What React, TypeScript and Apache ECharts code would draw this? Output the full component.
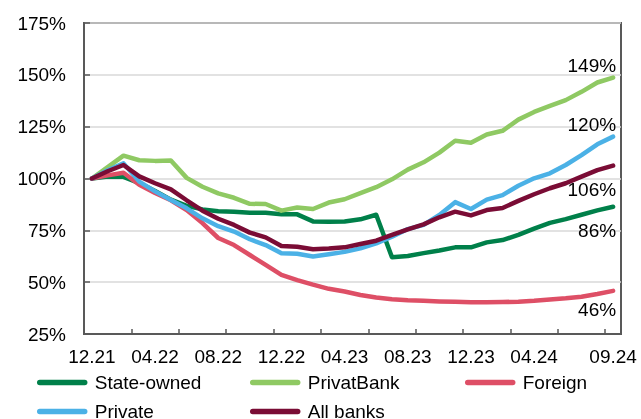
import React, { useEffect, useRef } from "react";
import * as echarts from "echarts";

const months = [
  "12.21", "01.22", "02.22", "03.22", "04.22", "05.22", "06.22", "07.22", "08.22", "09.22", "10.22", "11.22",
  "12.22", "01.23", "02.23", "03.23", "04.23", "05.23", "06.23", "07.23", "08.23", "09.23", "10.23", "11.23",
  "12.23", "01.24", "02.24", "03.24", "04.24", "05.24", "06.24", "07.24", "08.24", "09.24",
];

const stateOwned = [100, 101, 100.8, 97.8, 94, 89.8, 86.8, 85.1, 84.2, 84, 83.5, 83.5, 82.8, 82.7, 79.3, 79.2, 79.3, 80.3, 82.5, 62, 62.6, 64, 65.3, 66.8, 66.8, 69.2, 70.3, 72.8, 75.8, 78.6, 80.4, 82.5, 84.6, 86.4];
const privatBank = [100, 105.5, 111, 108.8, 108.5, 108.7, 100.3, 96, 92.8, 90.7, 87.8, 87.7, 84.5, 86, 85.3, 88.4, 90, 92.9, 95.8, 99.6, 104.3, 107.8, 112.5, 118.2, 117.2, 121.2, 123, 128.4, 132.1, 135, 137.8, 141.8, 146.3, 148.7];
const foreign = [100, 101.5, 102.8, 97, 93, 89.5, 84.8, 78.5, 71.3, 67.9, 63.1, 58.3, 53.5, 51, 48.8, 46.8, 45.5, 43.8, 42.6, 41.8, 41.3, 41, 40.7, 40.5, 40.3, 40.3, 40.4, 40.6, 41, 41.6, 42.2, 43, 44.3, 45.8];
const privateBanks = [100, 104, 107.3, 98.5, 93.8, 89.6, 85.6, 80.8, 77, 74.4, 70.7, 67.9, 63.9, 63.7, 62.4, 63.5, 64.6, 66.3, 68.7, 71.9, 75.6, 77.6, 82.4, 88.6, 85.3, 89.8, 92, 96.5, 100.1, 102.5, 106.5, 111.3, 116.5, 120.2];
const allBanks = [100, 103.5, 106.5, 101, 97.7, 94.8, 89.5, 84.5, 80.6, 77.6, 73.9, 71.6, 67.4, 67.1, 65.9, 66.2, 66.8, 68.4, 70, 72.8, 75.5, 77.9, 81.3, 84, 82.2, 84.8, 85.8, 89.2, 92.4, 95.3, 97.7, 100.9, 104, 106.2];

const seriesNames = ["State-owned", "PrivatBank", "Foreign", "Private", "All banks"];
const seriesColors = ["#00804a", "#8fc963", "#de4f66", "#4bb1e6", "#7a0c35"];

const FONT = "'Liberation Sans', Arial, Helvetica, sans-serif";
const AXIS = "#595959";

export default function App() {
  const ref = useRef<HTMLDivElement>(null);
  useEffect(() => {
    if (!ref.current) return;
    const chart = echarts.init(ref.current, null, { renderer: "svg" });
    const values = [stateOwned, privatBank, foreign, privateBanks, allBanks];
    const labelOffsets: number[][] = [[3, 24], [3, -12], [3, 19], [3, -12], [3, 24]];
    const legendLeft = [37, 250, 465, 37, 250];
    const legendTop = [373, 373, 373, 402, 402];
    const legendIcon = "path://M3,0 H52 A3,3 0 0 1 52,6 H3 A3,3 0 0 1 3,0 Z";
    chart.setOption({
      animation: false,
      grid: { left: 84, right: 20, top: 23, bottom: 85, show: true, borderColor: AXIS, borderWidth: 2 },
      legend: seriesNames.map((name, k) => ({
        orient: "horizontal",
        left: legendLeft[k],
        top: legendTop[k],
        padding: 0,
        itemWidth: 55,
        itemHeight: 5.5,
        icon: legendIcon,
        selectedMode: false,
        textStyle: { fontSize: 19, fontFamily: FONT, color: "#000" },
        data: [name],
      })),
      xAxis: {
        type: "category",
        data: months,
        boundaryGap: true,
        axisLine: { lineStyle: { color: AXIS, width: 2 } },
        axisTick: { show: true, inside: true, length: 5, interval: (i: number) => i % 3 === 0, lineStyle: { color: AXIS, width: 1.5 } },
        axisLabel: {
          interval: (i: number) => (i % 4 === 0 && i < 32) || i === 33,
          color: "#000",
          fontSize: 19,
          fontFamily: FONT,
          margin: 13,
        },
      },
      yAxis: {
        type: "value",
        min: 25,
        max: 175,
        interval: 25,
        axisLine: { show: true, lineStyle: { color: AXIS, width: 2 } },
        axisTick: { show: true, inside: true, length: 6, lineStyle: { color: AXIS, width: 1.5 } },
        axisLabel: { formatter: "{value}%", color: "#000", fontSize: 19, fontFamily: FONT, margin: 18 },
        splitLine: { show: true, lineStyle: { color: "#d9d9d9", width: 1.5 } },
      },
      series: seriesNames.map((name, k) => ({
        name,
        type: "line",
        data: values[k],
        showSymbol: false,
        symbol: "none",
        color: seriesColors[k],
        lineStyle: { width: 4.5, color: seriesColors[k], cap: "round", join: "round" },
        emphasis: { disabled: true },
        endLabel: {
          show: true,
          formatter: (p: any) => Math.round(p.value) + "%",
          align: "right",
          verticalAlign: "middle",
          distance: 0,
          offset: labelOffsets[k],
          color: "#000",
          fontSize: 19,
          fontFamily: FONT,
        },
      })),
    });
    return () => chart.dispose();
  }, []);
  return <div ref={ref} style={{ position: "fixed", left: 0, top: 0, width: 641, height: 419 }} />;
}
